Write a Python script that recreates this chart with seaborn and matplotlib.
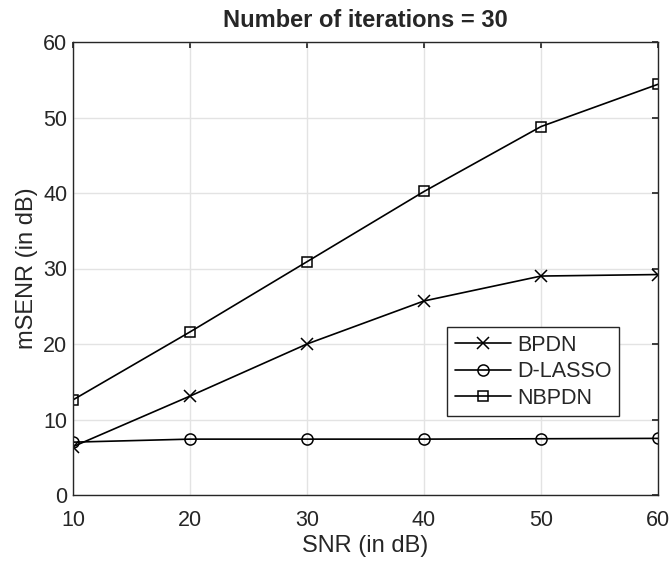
import matplotlib
matplotlib.use("Agg")
import matplotlib.pyplot as plt
import seaborn as sns
import pandas as pd

snr = [10, 20, 30, 40, 50, 60]
bpdn = [6.4, 13.1, 20.0, 25.7, 29.0, 29.2]
dlasso = [7.0, 7.4, 7.4, 7.4, 7.45, 7.5]
nbpdn = [12.6, 21.6, 30.9, 40.2, 48.8, 54.4]
xticks = [10, 20, 30, 40, 50, 60]
yticks = [0, 10, 20, 30, 40, 50, 60]

sns.set_theme(style="white")
plt.rcParams['font.family'] = ['Liberation Sans', 'DejaVu Sans']

fig = plt.figure(figsize=(6.7, 5.61), dpi=100)
ax = fig.add_axes([73/670, 1-495/561, (658-73)/670, (495-42)/561])

series = [("BPDN", bpdn, "x", 8), ("D-LASSO", dlasso, "o", 8), ("NBPDN", nbpdn, "s", 6.5)]
for name, vals, mk, ms in series:
    df = pd.DataFrame({"SNR": snr, "val": vals})
    sns.lineplot(data=df, x="SNR", y="val", ax=ax, color="black", marker=mk,
                 markersize=ms, markerfacecolor="none", markeredgecolor="black",
                 markeredgewidth=1.1, linewidth=1.2, label=name)

ax.set_xlim(10, 60)
ax.set_ylim(0, 60)
ax.set_xticks(xticks)
ax.set_yticks(yticks)
ax.grid(True, color="#e3e3e3", linewidth=1)
ax.set_axisbelow(True)
for s in ax.spines.values():
    s.set_color("#262626")
    s.set_linewidth(1)
ax.tick_params(axis="both", direction="in", length=4, labelsize=15.5, colors="#262626",
               top=True, right=True)
ax.tick_params(axis="x", pad=11)
ax.tick_params(axis="y", pad=4)
ax.set_xlabel("SNR (in dB)", fontsize=17, color="#262626", labelpad=3)
ax.set_ylabel("mSENR (in dB)", fontsize=17, color="#262626", labelpad=4)
ax.set_title("Number of iterations = 30", fontsize=17, fontweight="bold", pad=11)

leg = ax.legend(loc="lower left", bbox_to_anchor=(0.64, 0.174), fontsize=15.5,
                handlelength=2.6, handletextpad=0.3, borderpad=0.35, labelspacing=0.25,
                borderaxespad=0, fancybox=False, frameon=True, edgecolor="#262626",
                framealpha=1)
leg.get_frame().set_linewidth(1)

fig.savefig("out.png", dpi=100)
